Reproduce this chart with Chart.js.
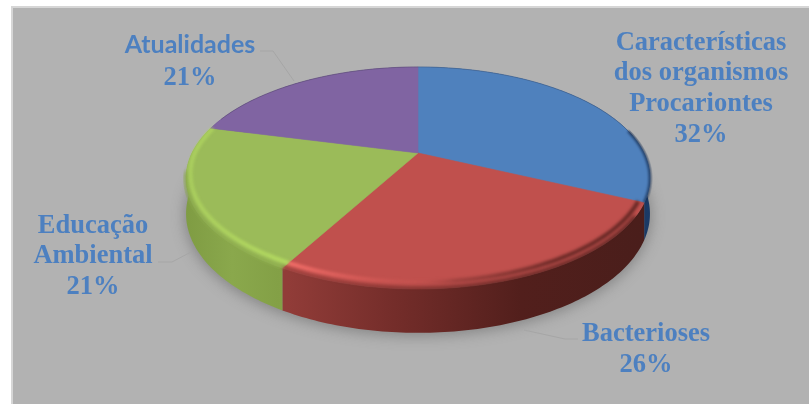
<!DOCTYPE html>
<html lang="pt">
<head>
<meta charset="utf-8">
<title>Temas abordados</title>
<script src="https://cdn.jsdelivr.net/npm/chart.js@4"></script>
<style>
  html, body { margin: 0; padding: 0; background: #fff; }
  #wrap { position: relative; width: 809px; height: 404px; overflow: hidden; }
  canvas { display: block; }
</style>
</head>
<body>
<div id="wrap"><canvas id="pie" width="809" height="404"></canvas></div>
<script>
// Chart values
const categories = ['Características dos organismos Procariontes', 'Bacterioses', 'Educação Ambiental', 'Atualidades'];
const shares = [32, 26, 21, 21];

// Slice colours
const faceColors = ['#4f81bd', '#c0504d', '#9bbb59', '#8064a2'];
const wallStops = [
  [[0.78, '#2c5688'], [0.88, '#1c3658'], [1, '#1a3a66']],
  [[0.22, '#913c38'], [0.45, '#742d2a'], [0.72, '#521f1c'], [0.98, '#4a1e1b']],
  [[0.0, '#7f9c43'], [0.1, '#8aa84c'], [0.2, '#83a046'], [0.26, '#8cab4b']],
  [[0, '#5d4877'], [1, '#5d4877']]
];

// Multi-line text of each data label, with its placement
const labelLines = [
  ['Características', 'dos organismos', 'Procariontes'],
  ['Bacterioses'],
  ['Educação', 'Ambiental'],
  ['Atualidades']
];
const serifLabel = 'bold 26.5px "Liberation Serif"';
const labelPlaces = [
  { x: 701, y: 43, step: 30.6, font: serifLabel },
  { x: 646, y: 334, step: 31, font: serifLabel },
  { x: 93, y: 226, step: 30.5, font: serifLabel },
  { x: 190, y: 45, step: 33, font: 'bold 25px Lato', valueFont: serifLabel }
];
const labelColor = '#4d80c0';
const leaderColor = '#a6a6a6';
const leaders = [
  null,
  [[578, 339], [565, 339], [524, 330]],
  [[158, 262], [172, 262], [191, 252]],
  [[260, 51], [273, 51], [294, 81]]
];

// Perspective view of the disc
const disc = { cx: 418, cy: 153, a: 226, b: 105.4, k: 0.225, drop: 34 };

function project(angle, radius, drop) {
  const u = Math.cos(angle) * radius;
  const v = Math.sin(angle) * radius;
  const w = 1 - disc.k * v;
  return [disc.cx + disc.a * u / w, disc.cy + (disc.b * v + drop) / w];
}

function arcPoints(start, end, radius, drop) {
  const steps = Math.max(4, Math.ceil((end - start) * 60));
  const pts = [];
  for (let i = 0; i <= steps; i++) {
    const a = start + (end - start) * i / steps;
    const r = typeof radius === 'function' ? radius(a) : radius;
    pts.push(project(a, r, drop));
  }
  return pts;
}

// The rounded rim sits further inside the edge towards the front of the disc
const rimRadius = a => 0.988 - 0.028 * Math.max(0, Math.sin(a));

function tracePolygon(ctx, pts) {
  ctx.beginPath();
  pts.forEach((p, i) => (i ? ctx.lineTo(p[0], p[1]) : ctx.moveTo(p[0], p[1])));
  ctx.closePath();
}

function traceOpen(ctx, pts) {
  ctx.beginPath();
  pts.forEach((p, i) => (i ? ctx.lineTo(p[0], p[1]) : ctx.moveTo(p[0], p[1])));
}

function horizontalGradient(ctx, stops) {
  const g = ctx.createLinearGradient(186, 0, 650, 0);
  stops.forEach(s => g.addColorStop(s[0], s[1]));
  return g;
}

// Grey panel behind the chart
const panel = {
  id: 'panel',
  beforeDraw(chart) {
    const ctx = chart.ctx;
    ctx.save();
    ctx.fillStyle = '#ffffff';
    ctx.fillRect(0, 0, 809, 404);
    ctx.fillStyle = '#d6d6d6';
    ctx.fillRect(11, 6, 798, 398);
    ctx.fillStyle = '#b2b2b2';
    ctx.fillRect(13, 8, 796, 396);
    ctx.restore();
  }
};

// Draws each arc element as a slice of a tilted disc with a side wall
const tiltedDisc = {
  id: 'tiltedDisc',
  beforeDatasetsDraw(chart) {
    const ctx = chart.ctx;
    const arcs = chart.getDatasetMeta(0).data;
    ctx.save();

    // Soft cast shadow below the wall
    ctx.save();
    ctx.filter = 'blur(7px)';
    ctx.fillStyle = 'rgba(70,70,70,0.42)';
    tracePolygon(ctx, arcPoints(0, Math.PI * 2, 1.005, disc.drop + 1.5));
    ctx.fill();
    ctx.restore();

    // Side walls
    arcs.forEach((arc, i) => {
      const top = arcPoints(arc.startAngle, arc.endAngle, 1, 0);
      const bottom = arcPoints(arc.startAngle, arc.endAngle, 1, disc.drop).reverse();
      ctx.fillStyle = horizontalGradient(ctx, wallStops[i]);
      tracePolygon(ctx, top.concat(bottom));
      ctx.fill();
    });

    // Top faces
    arcs.forEach((arc, i) => {
      const pts = [project(0, 0, 0)].concat(arcPoints(arc.startAngle, arc.endAngle, 1, 0));
      ctx.fillStyle = faceColors[i];
      tracePolygon(ctx, pts);
      ctx.fill();
      ctx.strokeStyle = faceColors[i];
      ctx.lineWidth = 0.6;
      ctx.stroke();
    });

    // Rounded rim of the front slices
    const redRim = horizontalGradient(ctx, [
      [0.22, 'rgba(255,118,112,0.85)'], [0.36, 'rgba(238,104,100,0.5)'],
      [0.5, 'rgba(225,95,90,0.1)'], [0.58, 'rgba(70,25,22,0.25)'],
      [0.8, 'rgba(70,25,22,0.7)'], [1, 'rgba(70,25,22,0.75)']
    ]);
    const greenRim = horizontalGradient(ctx, [
      [0, 'rgba(176,214,96,0.75)'], [0.24, 'rgba(186,226,98,0.85)']
    ]);
    const redEdge = horizontalGradient(ctx, wallStops[1]);
    const greenEdge = horizontalGradient(ctx, [[0, '#88a64a'], [0.26, '#8cab4b']]);

    ctx.save();
    tracePolygon(ctx, arcPoints(0, Math.PI * 2, 1.012, 0));
    ctx.clip();

    // Blend between the face and the wall
    ctx.filter = 'blur(2.2px)';
    ctx.lineWidth = 4;
    ctx.strokeStyle = redEdge;
    traceOpen(ctx, arcPoints(arcs[1].startAngle + 0.12, arcs[1].endAngle, 1, 0));
    ctx.stroke();
    ctx.strokeStyle = greenEdge;
    traceOpen(ctx, arcPoints(arcs[2].startAngle, arcs[2].startAngle + 0.9, 1, 0));
    ctx.stroke();

    // Highlight following the rim
    ctx.filter = 'blur(1.8px)';
    ctx.lineWidth = 4;
    ctx.strokeStyle = redRim;
    traceOpen(ctx, arcPoints(arcs[1].startAngle, arcs[1].endAngle, rimRadius, 0));
    ctx.stroke();
    ctx.strokeStyle = greenRim;
    traceOpen(ctx, arcPoints(arcs[2].startAngle, arcs[2].endAngle, rimRadius, 0));
    ctx.stroke();

    // Dark turn of the blue slice at the far right
    ctx.filter = 'blur(1.2px)';
    ctx.strokeStyle = 'rgba(25,50,85,0.75)';
    ctx.lineWidth = 3;
    traceOpen(ctx, arcPoints(arcs[0].startAngle + 1.35, arcs[0].endAngle, 1, 0));
    ctx.stroke();
    ctx.restore();

    // Thin dark edge along the back of the disc
    ctx.save();
    ctx.strokeStyle = 'rgba(40,40,60,0.3)';
    ctx.lineWidth = 0.8;
    traceOpen(ctx, arcPoints(arcs[3].startAngle + 0.1, arcs[3].endAngle, 1, 0));
    ctx.stroke();
    traceOpen(ctx, arcPoints(arcs[0].startAngle, arcs[0].startAngle + 1.4, 1, 0));
    ctx.stroke();
    ctx.restore();

    ctx.restore();
    return false;
  },

  // Leader lines and data labels
  afterDraw(chart) {
    const ctx = chart.ctx;
    const total = shares.reduce((s, v) => s + v, 0);
    ctx.save();
    ctx.strokeStyle = leaderColor;
    ctx.lineWidth = 1;
    leaders.forEach(path => {
      if (path) { traceOpen(ctx, path); ctx.stroke(); }
    });
    ctx.fillStyle = labelColor;
    ctx.textAlign = 'center';
    ctx.textBaseline = 'middle';
    labelLines.forEach((lines, i) => {
      const place = labelPlaces[i];
      ctx.font = place.font;
      lines.forEach((line, n) => ctx.fillText(line, place.x, place.y + n * place.step));
      ctx.font = place.valueFont || place.font;
      const pct = Math.round(shares[i] / total * 100) + '%';
      ctx.fillText(pct, place.x, place.y + lines.length * place.step);
    });
    ctx.restore();
  }
};

new Chart(document.getElementById('pie'), {
  type: 'pie',
  data: {
    labels: categories,
    datasets: [{ data: shares, backgroundColor: faceColors, borderWidth: 0 }]
  },
  options: {
    responsive: false,
    animation: false,
    events: [],
    plugins: { legend: { display: false }, tooltip: { enabled: false } }
  },
  plugins: [panel, tiltedDisc]
});
</script>
</body>
</html>
